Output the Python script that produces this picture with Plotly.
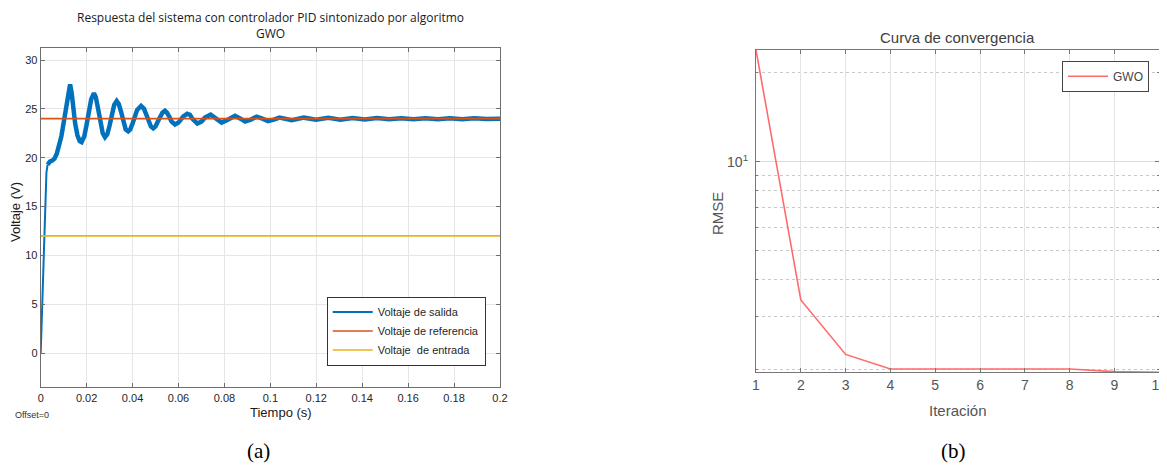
import plotly.graph_objects as go

# ---------------- data ----------------
t_out = [0, 0.0005, 0.001, 0.0015, 0.002, 0.0025, 0.003, 0.004, 0.005, 0.006,
         0.007, 0.008, 0.009, 0.010, 0.011, 0.0118, 0.0125, 0.0128, 0.0135, 0.014,
         0.015, 0.016, 0.017, 0.0178, 0.019, 0.020, 0.021, 0.022, 0.0232, 0.024,
         0.025, 0.026, 0.027, 0.028, 0.029, 0.030, 0.031, 0.032, 0.0331, 0.034,
         0.035, 0.036, 0.037, 0.0381, 0.039, 0.040, 0.041, 0.042, 0.0437, 0.045,
         0.046, 0.047, 0.048, 0.049, 0.050, 0.051, 0.052, 0.053, 0.0541, 0.055,
         0.056, 0.057, 0.0585, 0.060, 0.061, 0.062, 0.0638, 0.065, 0.066, 0.067,
         0.0682, 0.070, 0.0715, 0.074, 0.0765, 0.0788, 0.0815, 0.0846, 0.087, 0.089,
         0.0915, 0.094, 0.0965, 0.099, 0.1015, 0.104, 0.1093, 0.1146, 0.1199, 0.1252,
         0.1305, 0.1358, 0.1411, 0.1464, 0.1517, 0.157, 0.1623, 0.1676, 0.1729, 0.1782,
         0.1835, 0.1888, 0.1941, 0.2]
v_out = [0, 4.0, 8.5, 13.0, 16.5, 18.5, 19.3, 19.6, 19.7, 19.9,
         20.4, 21.2, 22.2, 23.6, 25.2, 26.6, 27.4, 27.5, 26.6, 25.4,
         23.5, 22.3, 21.7, 21.6, 22.2, 23.4, 24.8, 26.0, 26.6, 26.2,
         25.0, 23.6, 22.5, 22.1, 22.4, 23.3, 24.5, 25.4, 25.8, 25.5,
         24.7, 23.7, 22.9, 22.7, 22.9, 23.5, 24.2, 24.9, 25.3, 25.0,
         24.4, 23.7, 23.2, 23.0, 23.2, 23.7, 24.2, 24.6, 24.8, 24.6,
         24.2, 23.7, 23.4, 23.6, 23.9, 24.2, 24.5, 24.4, 24.0, 23.7,
         23.5, 23.7, 24.1, 24.4, 24.0, 23.6, 23.9, 24.3, 24.0, 23.7,
         23.9, 24.2, 24.0, 23.75, 23.9, 24.1, 23.85, 24.1, 23.88, 24.08,
         23.9, 24.07, 23.92, 24.06, 23.93, 24.05, 23.94, 24.05, 23.95, 24.04,
         23.95, 24.04, 23.96, 24.0]
t_ref = [0, 0.2]
v_ref = [24, 24]
t_in = [0, 0.2]
v_in = [12, 12]

iterations = [1, 2, 3, 4, 5, 6, 7, 8, 9, 10]
rmse = [23.8, 3.42, 2.24, 2.0, 2.0, 2.0, 2.0, 2.0, 1.96, 1.95]

x_ticks_a = [0, 0.02, 0.04, 0.06, 0.08, 0.1, 0.12, 0.14, 0.16, 0.18, 0.2]
x_ticktext_a = ["0", "0.02", "0.04", "0.06", "0.08", "0.1", "0.12", "0.14", "0.16", "0.18", "0.2"]
y_ticks_a = [0, 5, 10, 15, 20, 25, 30]
y_minor_b = [2, 3, 4, 5, 6, 7, 8, 9, 20]

RISE = 7  # samples of the fast initial rise (drawn thin, no ripple band)

# the page body has an 8px default margin: size the figure to fit the window
OFF = 8
W, H = 1167 - OFF, 468 - OFF
AF = "Liberation Sans, Arial, sans-serif"

fig = go.Figure()

fig.add_trace(go.Scatter(x=t_out[:RISE], y=v_out[:RISE], mode="lines",
                         name="Voltaje de salida", legendrank=1,
                         line=dict(color="#0072BD", width=2), legend="legend",
                         xaxis="x", yaxis="y"))
fig.add_trace(go.Scatter(x=t_out[RISE - 1:], y=v_out[RISE - 1:], mode="lines",
                         name="Voltaje de salida", showlegend=False,
                         line=dict(color="#0072BD", width=4.5), legend="legend",
                         xaxis="x", yaxis="y"))
fig.add_trace(go.Scatter(x=t_ref, y=v_ref, mode="lines", name="Voltaje de referencia",
                         legendrank=2,
                         line=dict(color="#D95319", width=1.6), legend="legend",
                         xaxis="x", yaxis="y"))
fig.add_trace(go.Scatter(x=t_in, y=v_in, mode="lines", name="Voltaje  de entrada",
                         legendrank=3,
                         line=dict(color="#EDB120", width=1.6), legend="legend",
                         xaxis="x", yaxis="y"))
fig.add_trace(go.Scatter(x=iterations, y=rmse, mode="lines", name="GWO",
                         line=dict(color="#FF6B6B", width=1.6), legend="legend2",
                         xaxis="x2", yaxis="y2"))

def px_x(p):
    return (p - OFF) / W

def px_y(p):
    return 1 - (p - OFF) / H

axis_col_a = "#6e6e6e"
axis_col_b = "#777777"

fig.update_layout(
    width=W, height=H,
    margin=dict(l=0, r=0, t=0, b=0, pad=0, autoexpand=False),
    paper_bgcolor="white", plot_bgcolor="white",
    font=dict(family=AF, color="#262626"),
    xaxis=dict(domain=[px_x(40.7), px_x(500)], range=[0, 0.2],
               tickvals=x_ticks_a, ticktext=x_ticktext_a, automargin=False,
               showgrid=True, gridcolor="#e6e6e6", gridwidth=1,
               zeroline=False, showline=True, linecolor=axis_col_a, linewidth=1,
               mirror="allticks", ticks="inside", ticklen=4, tickcolor=axis_col_a,
               tickfont=dict(size=11, color="#262626"), anchor="y"),
    yaxis=dict(domain=[px_y(387.3), px_y(48.3)], range=[-3.5, 31.2],
               tickvals=y_ticks_a, automargin=False,
               showgrid=True, gridcolor="#e6e6e6", gridwidth=1,
               zeroline=False, showline=True, linecolor=axis_col_a, linewidth=1,
               mirror="allticks", ticks="inside", ticklen=4, tickcolor=axis_col_a,
               tickfont=dict(size=11, color="#262626"), anchor="x"),
    xaxis2=dict(domain=[px_x(756), px_x(1159.3)], range=[1, 10], dtick=1,
                automargin=False, ticklabeloverflow="allow",
                showgrid=True, gridcolor="#e3e3e3", gridwidth=1,
                zeroline=False, showline=True, linecolor=axis_col_b, linewidth=1.2,
                mirror="allticks", ticks="inside", ticklen=4, tickcolor=axis_col_b,
                tickfont=dict(size=14, color="#555555"), anchor="y2"),
    yaxis2=dict(domain=[px_y(372.3), px_y(50)], type="log",
                range=[0.290, 1.3766], automargin=False,
                tickvals=[10], ticktext=["10<sup>1</sup>"],
                showgrid=True, gridcolor="#dddddd", gridwidth=1,
                minor=dict(tickmode="array", tickvals=y_minor_b, showgrid=True,
                           griddash="dot", gridcolor="#c8c8c8", gridwidth=1,
                           ticks="inside", ticklen=2, tickcolor=axis_col_b),
                zeroline=False, showline=True, linecolor=axis_col_b, linewidth=1.2,
                mirror="allticks", ticks="inside", ticklen=4, tickcolor=axis_col_b,
                tickfont=dict(size=14, color="#555555"), ticklabelstandoff=4,
                anchor="x2"),
    legend=dict(x=px_x(485.7), y=px_y(331), xanchor="right", yanchor="middle",
                bgcolor="white", bordercolor="#333333", borderwidth=1,
                font=dict(family=AF, size=11, color="#262626"),
                itemwidth=40, tracegroupgap=0),
    legend2=dict(x=px_x(1149), y=px_y(60.7), xanchor="right", yanchor="top",
                 bgcolor="white", bordercolor="#444444", borderwidth=1,
                 font=dict(family=AF, size=12, color="#444444"),
                 itemwidth=40),
    showlegend=True,
)

ann = [
    dict(text="Respuesta del sistema con controlador PID sintonizado por algoritmo<br>GWO",
         x=px_x(270.3), y=px_y(25), font=dict(family="Open Sans, sans-serif", size=12, color="#1a1a1a")),
    dict(text="Tiempo (s)", x=px_x(281), y=px_y(412), font=dict(family=AF, size=13, color="#1a1a1a")),
    dict(text="Offset=0", x=px_x(32), y=px_y(415), font=dict(family=AF, size=9, color="#333333")),
    dict(text="Voltaje (V)", x=px_x(15), y=px_y(212), textangle=-90,
         font=dict(family=AF, size=13, color="#1a1a1a")),
    dict(text="(a)", x=px_x(258), y=px_y(451), font=dict(family="Liberation Serif, Times New Roman, serif", size=21, color="black")),
    dict(text="(b)", x=px_x(953), y=px_y(451), font=dict(family="Liberation Serif, Times New Roman, serif", size=21, color="black")),
    dict(text="Curva de convergencia", x=px_x(957.6), y=px_y(38), font=dict(family=AF, size=15, color="#404040")),
    dict(text="Iteración", x=px_x(957.6), y=px_y(410), font=dict(family=AF, size=15, color="#555555")),
    dict(text="RMSE", x=px_x(717), y=px_y(213), textangle=-90, font=dict(family=AF, size=15, color="#555555")),
]
for a in ann:
    a.update(xref="paper", yref="paper", showarrow=False, xanchor="center", yanchor="middle")
fig.update_layout(annotations=ann)

fig.write_html("out.html")
